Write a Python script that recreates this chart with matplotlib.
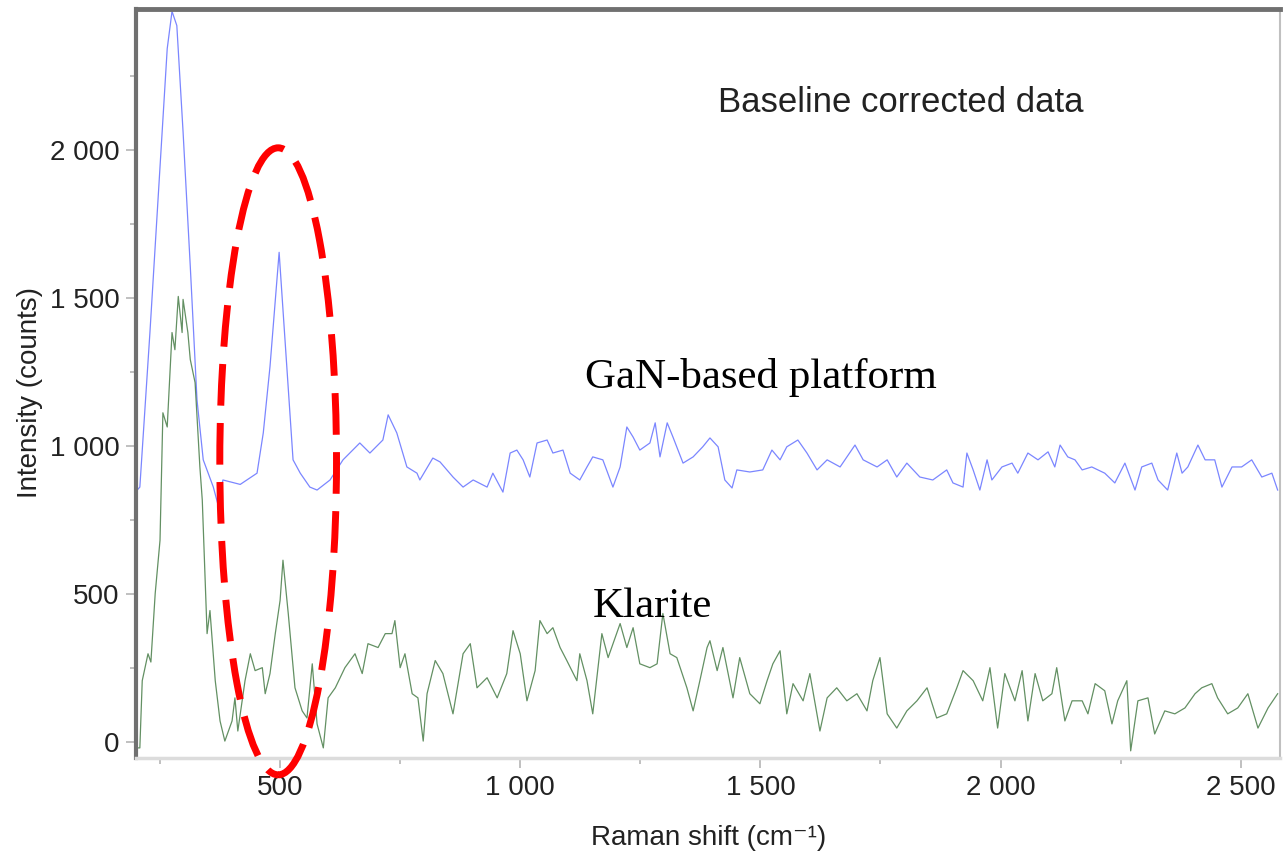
import numpy as np
import matplotlib
matplotlib.use('Agg')
import matplotlib.pyplot as plt
from matplotlib.patches import Ellipse
from matplotlib.ticker import FuncFormatter, MultipleLocator

# GaN-based platform spectrum (blue), Raman shift in cm-1 and counts
gan_x = [202, 208, 229, 250, 265, 275, 285, 298, 313, 327, 340, 361, 371, 381, 417, 452,
         465, 479, 498, 514, 527, 542, 562, 577, 604, 631, 666, 687, 714, 725, 743, 764,
         785, 791, 818, 833, 860, 881, 902, 931, 943, 964, 979, 993, 1006, 1020, 1035, 1056,
         1068, 1089, 1104, 1124, 1139, 1151, 1172, 1193, 1208, 1222, 1235, 1249, 1270, 1281,
         1291, 1306, 1318, 1339, 1360, 1380, 1395, 1412, 1426, 1441, 1451, 1478, 1505, 1524,
         1541, 1555, 1578, 1597, 1618, 1639, 1666, 1697, 1714, 1743, 1764, 1784, 1805, 1832,
         1859, 1888, 1901, 1922, 1930, 1943, 1957, 1972, 1982, 2003, 2024, 2036, 2057, 2078,
         2099, 2113, 2124, 2140, 2155, 2170, 2190, 2217, 2238, 2259, 2280, 2294, 2315, 2328,
         2348, 2367, 2378, 2390, 2411, 2426, 2446, 2461, 2482, 2502, 2523, 2544, 2565, 2577]
gan_y = [850, 861, 1383, 1946, 2342, 2468, 2420, 2061, 1607, 1156, 953, 861, 800, 885, 870, 908,
         1044, 1268, 1654, 1268, 953, 908, 861, 851, 885, 953, 1010, 976, 1020, 1105, 1044, 929,
         908, 885, 959, 946, 895, 861, 885, 861, 908, 844, 976, 986, 953, 895, 1010, 1020,
         976, 986, 908, 885, 929, 963, 953, 861, 929, 1064, 1030, 986, 1010, 1078,
         963, 1078, 1030, 942, 963, 997, 1027, 997, 885, 858, 919, 912, 919, 986,
         953, 997, 1020, 976, 919, 953, 929, 1003, 953, 929, 953, 895, 942, 895,
         885, 919, 875, 861, 976, 919, 851, 953, 885, 929, 942, 908, 976, 953,
         980, 929, 1003, 963, 953, 919, 929, 908, 875, 942, 851, 929, 942, 885,
         851, 976, 908, 929, 1003, 953, 953, 861, 929, 929, 953, 895, 908, 851]

# Klarite spectrum (green)
kla_x = [202, 208, 213, 225, 231, 240, 250, 256, 265, 275, 281, 288, 296, 298, 308, 313,
         323, 333, 338, 344, 348, 354, 365, 375, 385, 400, 406, 412, 427, 438, 448, 463,
         469, 479, 490, 500, 506, 517, 531, 546, 556, 567, 577, 590, 600, 615, 635, 656,
         671, 683, 704, 719, 733, 739, 750, 760, 775, 787, 798, 806, 823, 839, 860, 881,
         896, 910, 931, 952, 972, 985, 1000, 1014, 1031, 1041, 1056, 1068, 1083, 1097, 1118, 1124,
         1139, 1151, 1170, 1183, 1208, 1222, 1235, 1249, 1270, 1285, 1297, 1312, 1326, 1347, 1360, 1374,
         1389, 1395, 1410, 1422, 1443, 1457, 1478, 1499, 1514, 1526, 1541, 1555, 1568, 1589, 1603, 1624,
         1639, 1659, 1680, 1701, 1722, 1734, 1749, 1764, 1784, 1805, 1826, 1847, 1867, 1888, 1909, 1922,
         1943, 1963, 1978, 1994, 2009, 2030, 2045, 2057, 2072, 2088, 2107, 2117, 2134, 2149, 2170, 2182,
         2197, 2217, 2232, 2244, 2263, 2271, 2286, 2307, 2321, 2342, 2363, 2384, 2405, 2419, 2440, 2452,
         2473, 2494, 2515, 2536, 2557, 2577]
kla_y = [-20, -20, 207, 298, 270, 502, 681, 1112, 1064, 1383, 1325, 1505, 1383, 1495, 1383, 1292,
         1214, 929, 817, 546, 366, 444, 207, 71, 3, 71, 149, 37, 207, 298, 241, 251,
         163, 231, 366, 478, 614, 434, 183, 105, 81, 264, 61, -20, 149, 183, 251, 298,
         231, 332, 319, 366, 366, 410, 251, 298, 163, 149, 3, 163, 275, 231, 95, 298,
         332, 183, 217, 149, 231, 376, 298, 139, 241, 410, 366, 386, 319, 275, 207, 298,
         207, 95, 366, 285, 400, 319, 386, 264, 251, 264, 434, 298, 285, 183, 105, 207,
         319, 342, 241, 319, 149, 285, 163, 129, 207, 264, 308, 95, 197, 139, 231, 37,
         149, 183, 139, 163, 105, 207, 285, 95, 47, 105, 139, 183, 81, 95, 183, 241,
         207, 139, 251, 47, 231, 139, 241, 71, 231, 139, 163, 251, 71, 139, 139, 95,
         197, 173, 61, 139, 207, -30, 139, 149, 27, 105, 95, 115, 163, 183, 197, 149,
         95, 115, 163, 47, 115, 163]

x_ticks = [500, 1000, 1500, 2000, 2500]
y_ticks = [0, 500, 1000, 1500, 2000]

plt.rcParams['font.family'] = ['Liberation Sans', 'DejaVu Sans']

fig = plt.figure(figsize=(12.83, 8.55), dpi=100)
ax = fig.add_axes([0.106, 0.1135, 0.8917, 0.876])

ax.plot(gan_x, gan_y, color='#5a68ff', lw=0.9, alpha=0.8)
ax.plot(kla_x, kla_y, color='#2f6b2f', lw=0.9, alpha=0.75)

ax.set_xlim(200, 2582)
ax.set_ylim(-54, 2476)

ax.set_xticks(x_ticks)
ax.set_yticks(y_ticks)
ax.xaxis.set_minor_locator(MultipleLocator(250))
ax.yaxis.set_minor_locator(MultipleLocator(250))
thousands = FuncFormatter(lambda v, p: '{:,}'.format(int(v)).replace(',', ' '))
ax.xaxis.set_major_formatter(thousands)
ax.yaxis.set_major_formatter(thousands)
ax.tick_params(which='both', direction='out', color='#bbbbbb', width=1.3,
               labelsize=20, labelcolor='#222222')
ax.tick_params(which='major', length=7, pad=5)
ax.tick_params(which='minor', length=4)

# frame: heavy grey on top/left, light on bottom/right
ax.spines['left'].set_color('#707070')
ax.spines['left'].set_linewidth(3)
ax.spines['top'].set_color('#707070')
ax.spines['top'].set_linewidth(3.5)
ax.spines['bottom'].set_color('#dcdcdc')
ax.spines['bottom'].set_linewidth(2.5)
ax.spines['right'].set_color('#c0c0c0')
ax.spines['right'].set_linewidth(1.5)

# red dashed ring round the ~500 cm-1 peak
ring = Ellipse((496, 948), 243, 2118, fill=False, edgecolor='red', lw=5,
               linestyle=(0, (6, 2.5)), clip_on=False, zorder=5)
ax.add_patch(ring)

fig.text(718/1283, 1-112/855, 'Baseline corrected data', fontsize=25, color='#222222',
         ha='left', va='baseline')
fig.text(585/1283, 1-388/855, 'GaN-based platform', fontsize=31, family='Liberation Serif',
         ha='left', va='baseline')
fig.text(593/1283, 1-617/855, 'Klarite', fontsize=31, family='Liberation Serif',
         ha='left', va='baseline')
fig.text(709/1283, 1-838/855, 'Raman shift (cm⁻¹)', fontsize=20, color='#222222',
         ha='center', va='center')
fig.text(30/1283, 1-392/855, 'Intensity (counts)', fontsize=20, color='#222222',
         ha='center', va='center', rotation=90)

fig.savefig('out.png', dpi=100)
